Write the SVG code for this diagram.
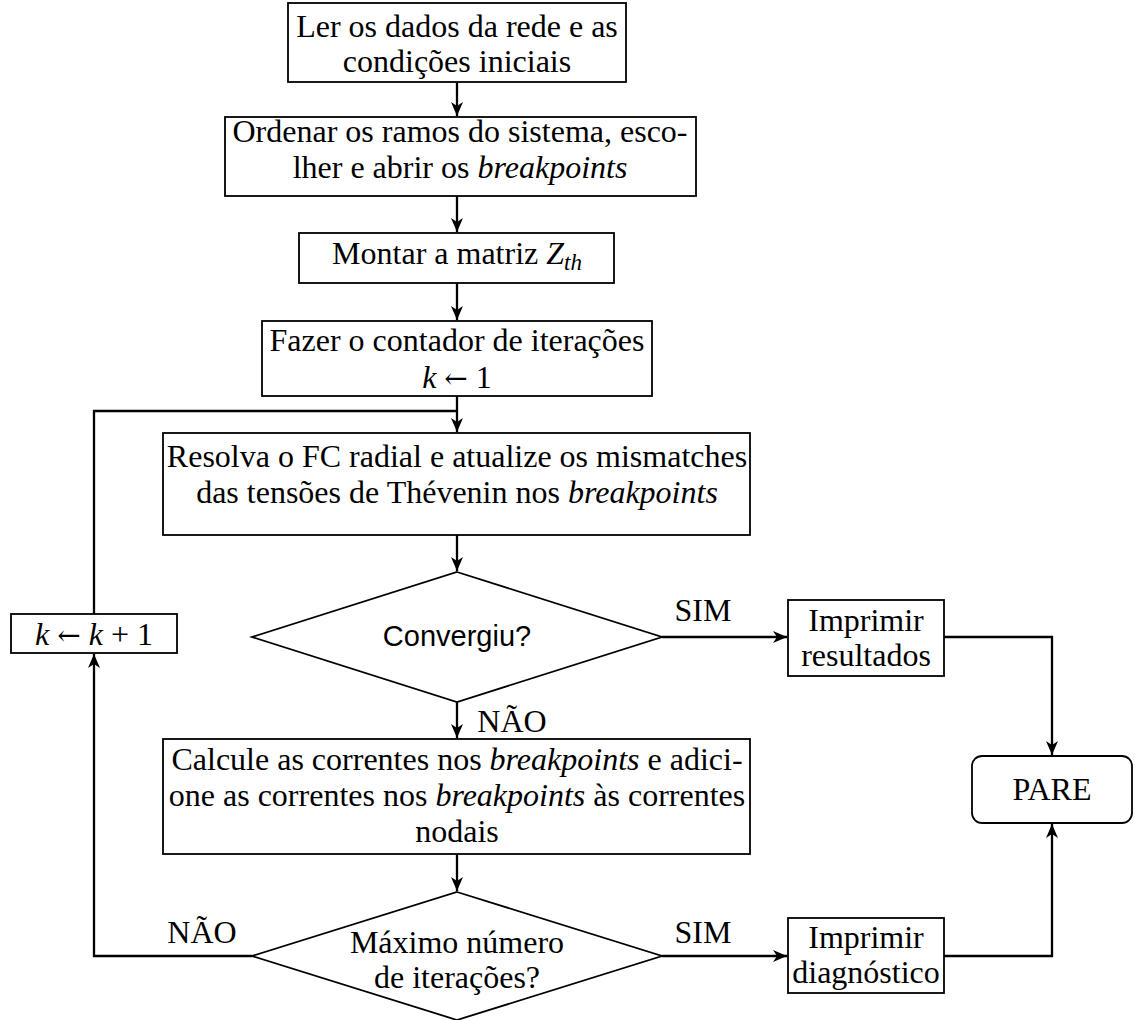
<svg xmlns="http://www.w3.org/2000/svg" width="1135" height="1020" viewBox="0 0 1135 1020">
<style>
.box{fill:#fff;stroke:#000;stroke-width:1.8}
.t{font-family:"Liberation Serif","Times New Roman",serif;font-size:32px;fill:#000;text-anchor:middle}
.s{font-family:"Liberation Sans",Arial,sans-serif;font-size:29px;fill:#000;text-anchor:middle}
.i{font-style:italic}
.a{font-family:"DejaVu Serif",serif;font-size:28px}
.c{fill:none;stroke:#000;stroke-width:2.3}
</style>
<defs>
<marker id="ah" viewBox="0 0 14 12" refX="14" refY="6" markerWidth="14" markerHeight="12" markerUnits="userSpaceOnUse" orient="auto">
<path d="M0,0 L14,6 L0,12 L4,6 z" fill="#000"/>
</marker>
</defs>
<rect width="1135" height="1020" fill="#fff"/>
<g id="connectors">
<path class="c" d="M457,82 V116" marker-end="url(#ah)"/>
<path class="c" d="M457,196 V232" marker-end="url(#ah)"/>
<path class="c" d="M457,283 V320" marker-end="url(#ah)"/>
<path class="c" d="M457,396 V432" marker-end="url(#ah)"/>
<path class="c" d="M94,614 V411 H457"/>
<path class="c" d="M457,535 V571" marker-end="url(#ah)"/>
<path class="c" d="M662,637 H787" marker-end="url(#ah)"/>
<path class="c" d="M944,637 H1052 V755" marker-end="url(#ah)"/>
<path class="c" d="M457,702 V738" marker-end="url(#ah)"/>
<path class="c" d="M457,854 V891" marker-end="url(#ah)"/>
<path class="c" d="M252,956 H94 V654" marker-end="url(#ah)"/>
<path class="c" d="M662,956 H787" marker-end="url(#ah)"/>
<path class="c" d="M944,956 H1052 V824" marker-end="url(#ah)"/>
</g>
<g id="n1">
<rect class="box" x="288" y="3" width="338" height="79"/>
<text class="t" x="457" y="37">Ler os dados da rede e as</text>
<text class="t" x="457" y="72">condições iniciais</text>
</g>
<g id="n2">
<rect class="box" x="225" y="117" width="471" height="79"/>
<text class="t" x="460" y="142">Ordenar os ramos do sistema, esco-</text>
<text class="t" x="460" y="178">lher e abrir os <tspan class="i">breakpoints</tspan></text>
</g>
<g id="n3">
<rect class="box" x="299" y="233" width="315" height="50"/>
<text class="t" x="457" y="264">Montar a matriz <tspan class="i">Z</tspan><tspan class="i" font-size="23" dy="6">th</tspan></text>
</g>
<g id="n4">
<rect class="box" x="262" y="321" width="390" height="75"/>
<text class="t" x="457" y="351">Fazer o contador de iterações</text>
<text class="t" x="457" y="388"><tspan class="i">k</tspan> <tspan class="a">←</tspan> 1</text>
</g>
<g id="n5">
<rect class="box" x="163" y="433" width="587" height="102"/>
<text class="t" x="457" y="467">Resolva o FC radial e atualize os mismatches</text>
<text class="t" x="457" y="503">das tensões de Thévenin nos <tspan class="i">breakpoints</tspan></text>
</g>
<g id="d1">
<polygon class="box" points="457,572 662,637 457,702 252,637"/>
<text class="s" x="457" y="646">Convergiu?</text>
</g>
<g id="labels">
<text class="t" x="703" y="621">SIM</text>
<text class="t" x="512" y="732">NÃO</text>
<text class="t" x="703" y="943">SIM</text>
<text class="t" x="202" y="943">NÃO</text>
</g>
<g id="n6">
<rect class="box" x="788" y="600" width="156" height="76"/>
<text class="t" x="866" y="631">Imprimir</text>
<text class="t" x="866" y="666">resultados</text>
</g>
<g id="n7">
<rect class="box" x="972" y="756" width="160" height="67" rx="10"/>
<text class="t" x="1052" y="800">PARE</text>
</g>
<g id="n8">
<rect class="box" x="163" y="739" width="587" height="115"/>
<text class="t" x="457" y="770">Calcule as correntes nos <tspan class="i">breakpoints</tspan> e adici-</text>
<text class="t" x="457" y="806">one as correntes nos <tspan class="i">breakpoints</tspan> às correntes</text>
<text class="t" x="457" y="842">nodais</text>
</g>
<g id="d2">
<polygon class="box" points="457,892 662,956 457,1020 252,956"/>
<text class="t" x="457" y="953">Máximo número</text>
<text class="t" x="457" y="988">de iterações?</text>
</g>
<g id="n9">
<rect class="box" x="11" y="614" width="166" height="39"/>
<text class="t" x="94" y="645"><tspan class="i">k</tspan> <tspan class="a">←</tspan> <tspan class="i">k</tspan> + 1</text>
</g>
<g id="n10">
<rect class="box" x="788" y="918" width="156" height="75"/>
<text class="t" x="866" y="948">Imprimir</text>
<text class="t" x="866" y="983">diagnóstico</text>
</g>
</svg>
